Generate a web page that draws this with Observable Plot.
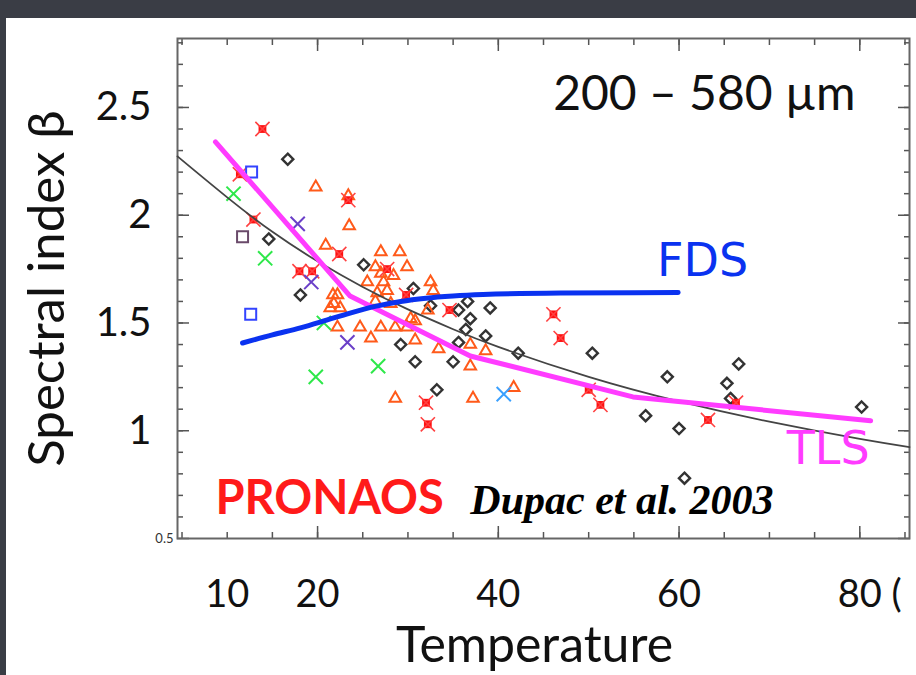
<!DOCTYPE html>
<html>
<head>
<meta charset="utf-8">
<script src="https://cdn.jsdelivr.net/npm/d3@7"></script>
<script src="https://cdn.jsdelivr.net/npm/@observablehq/plot@0.6"></script>
<style>
  html, body { margin: 0; padding: 0; width: 916px; height: 675px; overflow: hidden; background: #3a3d45; }
  #paper { position: absolute; left: 6px; top: 18px; width: 910px; height: 657px; background: #ffffff; }
  #chart { position: absolute; left: 0; top: 0; width: 916px; height: 675px; }
</style>
</head>
<body>
<div id="paper"></div>
<div id="chart"></div>
<script>
// ---- data: [Temperature (K), spectral index beta] ----
const diamonds = [[16.7,2.26],[14.6,1.89],[18.1,1.63],[25.1,1.77],[30.6,1.66],[29.2,1.40],[30.8,1.32],[33.2,1.19],[32.5,1.58],[35.6,1.56],[36.6,1.60],[36.9,1.52],[36.4,1.47],[35.6,1.41],[35.0,1.32],[38.6,1.44],[39.1,1.57],[42.2,1.36],[50.4,1.36],[56.3,1.07],[58.7,1.25],[60.0,1.01],[60.6,0.78],[65.3,1.22],[66.6,1.31],[65.7,1.15],[80.2,1.11]];
const triangles = [[19.8,2.13],[23.4,2.09],[23.5,1.95],[20.9,1.86],[27.0,1.83],[29.1,1.83],[26.4,1.76],[29.9,1.76],[28.4,1.72],[27.0,1.73],[27.3,1.69],[25.5,1.69],[32.5,1.69],[32.8,1.65],[27.7,1.65],[26.6,1.64],[21.7,1.63],[22.2,1.63],[21.8,1.59],[21.4,1.57],[22.5,1.57],[26.4,1.60],[28.1,1.59],[30.3,1.52],[32.2,1.56],[24.7,1.48],[27.0,1.48],[28.6,1.48],[29.9,1.48],[30.8,1.51],[22.2,1.48],[25.9,1.43],[30.8,1.42],[33.4,1.38],[36.9,1.40],[38.6,1.37],[36.9,1.30],[28.6,1.15],[37.2,1.15],[41.7,1.20]];
const redStars = [[13.9,2.40],[11.4,2.19],[23.4,2.07],[12.9,1.98],[22.4,1.82],[18.0,1.74],[19.4,1.74],[27.7,1.75],[29.8,1.63],[34.6,1.56],[46.1,1.54],[46.9,1.43],[32.0,1.13],[32.2,1.03],[50.0,1.19],[51.3,1.12],[63.2,1.05],[66.3,1.13]];
const greenCrosses = [[10.7,2.10],[14.2,1.80],[20.7,1.50],[19.8,1.25],[26.7,1.30]];
const purpleCrosses = [[17.8,1.96],[19.3,1.69],[23.3,1.41]];
const blueSquares = [[12.7,2.20],[12.6,1.54]];
const plumSquares = [[11.7,1.90]];
const cyanCrosses = [[40.6,1.17]];

// curves
const fitT = [4.5,10,15,20,25,30,35,40,50,60,70,80,85.5];
const fitB = [2.273,2.083,1.923,1.786,1.667,1.563,1.471,1.389,1.250,1.136,1.042,0.962,0.924];
const tlsT = [8.7,23.6,36.9,54.9,81.2];
const tlsB = [2.34,1.625,1.347,1.157,1.046];
const fdsT = [11.7,15,18.1,21,23.5,26.5,29.2,32,35,38.3,46.9,59.9];
const fdsB = [1.407,1.445,1.477,1.513,1.545,1.578,1.600,1.615,1.625,1.632,1.639,1.641];

// axes
const xTickValues = [10,20,40,60];
const xTickLabels = ["10","20","40","60"];
const xLastTick = 80;
const xLastLabel = "80 (";
const yTickValues = [1,1.5,2,2.5];
const yTickLabels = ["1","1.5","2","2.5"];

// annotations
const rangeNote = [{text: "200 – 580 µm", T: 62.8, b: 2.56}];
const fdsNote = [{text: "FDS", T: 62.6, b: 1.787}];
const tlsNote = [{text: "TLS", T: 76.5, b: 0.912}];
const instNote = [{text: "PRONAOS", T: 8.7, b: 0.685}];
const refNote = [{text: "Dupac et al. 2003", T: 36.9, b: 0.676}];

const toRows = (pairs) => pairs.map(([T, b]) => ({T, b}));
const zipRows = (ts, bs) => ts.map((T, i) => ({T, b: bs[i]}));

const sans = "Lato, 'Open Sans', sans-serif";
const minorX = d3.range(5, 86, 5);
const majorX = [20,40,60,80];
const minorY = d3.range(6, 29).map(d => d / 10);
const majorY = [0.5,1,1.5,2,2.5];
const tickStyle = {fill: "none", stroke: "#555", strokeWidth: 1.5, label: null};

const chart = Plot.plot({
  width: 916,
  height: 675,
  marginLeft: 177,
  marginRight: 7,
  marginTop: 38,
  marginBottom: 137,
  x: {domain: [4.5, 85.5]},
  y: {domain: [0.5, 2.82]},
  style: {background: "transparent", overflow: "hidden", fontFamily: sans},
  marks: [
    // inward ticks on all four sides
    Plot.axisX(minorX, {anchor: "bottom", tickSize: -6, ...tickStyle}),
    Plot.axisX(majorX, {anchor: "bottom", tickSize: -12, ...tickStyle}),
    Plot.axisX(minorX, {anchor: "top", tickSize: -6, ...tickStyle}),
    Plot.axisX(majorX, {anchor: "top", tickSize: -12, ...tickStyle}),
    Plot.axisY(minorY, {anchor: "left", tickSize: -6, ...tickStyle}),
    Plot.axisY(majorY, {anchor: "left", tickSize: -12, ...tickStyle}),
    Plot.axisY(minorY, {anchor: "right", tickSize: -6, ...tickStyle}),
    Plot.axisY(majorY, {anchor: "right", tickSize: -12, ...tickStyle}),
    // tick labels
    Plot.axisX(xTickValues, {anchor: "bottom", tickSize: 0, tickPadding: 42, fontSize: 38, fill: "#111", label: null,
      tickFormat: d => xTickLabels[xTickValues.indexOf(d)]}),
    Plot.axisX([xLastTick], {anchor: "bottom", tickSize: 0, tickPadding: 42, fontSize: 38, fill: "#111", label: null,
      textAnchor: "start", dx: -22, tickFormat: () => xLastLabel}),
    Plot.axisY(yTickValues, {anchor: "left", tickSize: 0, tickPadding: 26, fontSize: 40, fill: "#111", label: null,
      tickFormat: d => yTickLabels[yTickValues.indexOf(d)]}),
    Plot.axisY([0.5], {anchor: "left", tickSize: 0, tickPadding: 4, fontSize: 13, fill: "#333", label: null, tickFormat: () => "0.5"}),
    Plot.frame({stroke: "#666", strokeWidth: 2}),

    // scatter points
    Plot.dot(toRows(diamonds), {x: "T", y: "b", symbol: "diamond2", r: 5, stroke: "#333", strokeWidth: 2.4, fill: "none"}),
    Plot.dot(toRows(triangles), {x: "T", y: "b", symbol: "triangle2", r: 5.5, stroke: "#ff5a1a", strokeWidth: 2, fill: "none"}),
    Plot.dot(toRows(redStars), {x: "T", y: "b", symbol: "square", r: 4.4, fill: "#ff1010", stroke: "none"}),
    Plot.dot(toRows(redStars), {x: "T", y: "b", symbol: "times", r: 6.5, stroke: "#ff4040", strokeWidth: 1.6}),
    Plot.dot(toRows(greenCrosses), {x: "T", y: "b", symbol: "times", r: 6.5, stroke: "#2ee84a", strokeWidth: 2}),
    Plot.dot(toRows(purpleCrosses), {x: "T", y: "b", symbol: "times", r: 6.5, stroke: "#6a3fc8", strokeWidth: 2}),
    Plot.dot(toRows(cyanCrosses), {x: "T", y: "b", symbol: "times", r: 6.5, stroke: "#3aa0ff", strokeWidth: 2}),
    Plot.dot(toRows(blueSquares), {x: "T", y: "b", symbol: "square2", r: 7, stroke: "#3344ff", strokeWidth: 2, fill: "none"}),
    Plot.dot(toRows(plumSquares), {x: "T", y: "b", symbol: "square2", r: 7, stroke: "#6a4a6a", strokeWidth: 2, fill: "none"}),

    // curves
    Plot.line(zipRows(fitT, fitB), {x: "T", y: "b", curve: "natural", stroke: "#444", strokeWidth: 1.8}),
    Plot.line(zipRows(tlsT, tlsB), {x: "T", y: "b", stroke: "#ff3cff", strokeWidth: 5}),
    Plot.line(zipRows(fdsT, fdsB), {x: "T", y: "b", curve: "monotone-x", stroke: "#0a32f0", strokeWidth: 5}),

    // annotations
    Plot.text(rangeNote, {x: "T", y: "b", text: "text", fontSize: 48, fill: "#111", fontFamily: sans}),
    Plot.text(fdsNote, {x: "T", y: "b", text: "text", fontSize: 46, fill: "#0a32f0", fontFamily: "'DejaVu Sans', sans-serif"}),
    Plot.text(tlsNote, {x: "T", y: "b", text: "text", fontSize: 46, fill: "#ff3cff", fontFamily: "'DejaVu Sans', sans-serif"}),
    Plot.text(instNote, {x: "T", y: "b", text: "text", textAnchor: "start", fontSize: 47, fontWeight: "bold", fill: "#ff1a1a", fontFamily: sans}),
    Plot.text(refNote, {x: "T", y: "b", text: "text", textAnchor: "start", fontSize: 42, fontWeight: "bold", fontStyle: "italic", fill: "#000", fontFamily: "'Liberation Serif', serif"}),

    // axis titles
    Plot.text(["Spectral index β"], {frameAnchor: "left", textAnchor: "middle", lineAnchor: "middle", dx: -130, rotate: -90, fontSize: 51, fill: "#111", fontFamily: sans}),
    Plot.text(["Temperature"], {frameAnchor: "bottom", textAnchor: "middle", lineAnchor: "middle", dx: -9, dy: 107, fontSize: 50, fill: "#111", fontFamily: sans})
  ]
});
document.getElementById("chart").appendChild(chart);
</script>
</body>
</html>
